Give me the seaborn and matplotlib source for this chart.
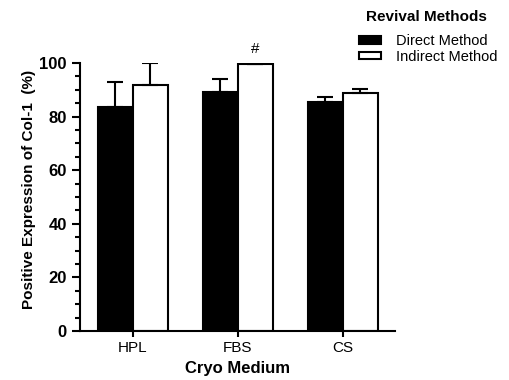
import numpy as np
import pandas as pd
import matplotlib
matplotlib.use("Agg")
import matplotlib.pyplot as plt
import seaborn as sns
from matplotlib.ticker import MultipleLocator

media = ["HPL", "FBS", "CS"]
methods = ["Direct Method", "Indirect Method"]
direct_mean = [83.7, 89.3, 85.6]
indirect_mean = [92.0, 99.8, 88.9]
direct_err = [9.2, 4.6, 1.8]
indirect_err = [7.9, 0.0, 1.3]

df = pd.DataFrame({
    "medium": media * 2,
    "method": [methods[0]] * 3 + [methods[1]] * 3,
    "value": direct_mean + indirect_mean,
    "err": direct_err + indirect_err,
})

sns.set_style("ticks", {"axes.edgecolor": "black", "text.color": "black",
                        "axes.labelcolor": "black", "xtick.color": "black",
                        "ytick.color": "black"})
plt.rcParams["font.family"] = ["Liberation Sans", "DejaVu Sans"]

fig = plt.figure(figsize=(5.1, 3.8), dpi=100)
ax = fig.add_axes([0.157, 0.129, 0.618, 0.705])

sns.barplot(data=df, x="medium", y="value", hue="method", order=media,
            hue_order=methods, palette=["black", "white"], width=0.667,
            edgecolor="black", linewidth=1.5, errorbar=None, ax=ax, legend=True)

for cont, m in zip(ax.containers, methods):
    sub = df[df["method"] == m].set_index("medium").loc[media]
    xs = [b.get_x() + b.get_width() / 2 for b in cont]
    ax.errorbar(xs, sub["value"], yerr=[np.zeros(3), sub["err"]], fmt="none",
                ecolor="black", elinewidth=1.5, capsize=6, capthick=1.5, zorder=1)

fbs_bar = ax.containers[1][1]
ax.text(fbs_bar.get_x() + fbs_bar.get_width() / 2, 102.5, "#", ha="center",
        va="bottom", fontsize=11)

ax.set_xlim(-0.5, 2.5)
ax.set_ylim(0, 100)
ax.yaxis.set_major_locator(MultipleLocator(20))
ax.yaxis.set_minor_locator(MultipleLocator(5))
ax.tick_params(axis="y", which="major", length=6, width=1.5, labelsize=12)
ax.tick_params(axis="y", which="minor", length=3.5, width=1.5)
ax.tick_params(axis="x", length=4, width=1.5, labelsize=11)
for lab in ax.get_yticklabels():
    lab.set_fontweight("bold")
for s in ["left", "bottom"]:
    ax.spines[s].set_linewidth(1.5)
sns.despine(ax=ax)

ax.set_xlabel("Cryo Medium", fontsize=12, fontweight="bold")
ax.set_ylabel("Positive Expression of Col-1  (%)", fontsize=11, fontweight="bold")
ax.yaxis.set_label_coords(-0.14, 0.53)

leg = ax.legend(loc="upper left", bbox_to_anchor=(0.69, 0.929),
                bbox_transform=fig.transFigure, frameon=False, fontsize=10.5,
                borderpad=0, handlelength=1.5, handleheight=0.45,
                handletextpad=1.0, labelspacing=0.1)
fig.text(426 / 510, 1 - 17 / 380, "Revival Methods", ha="center", va="center",
         fontsize=11, fontweight="bold")

fig.savefig("out.png", dpi=100)
